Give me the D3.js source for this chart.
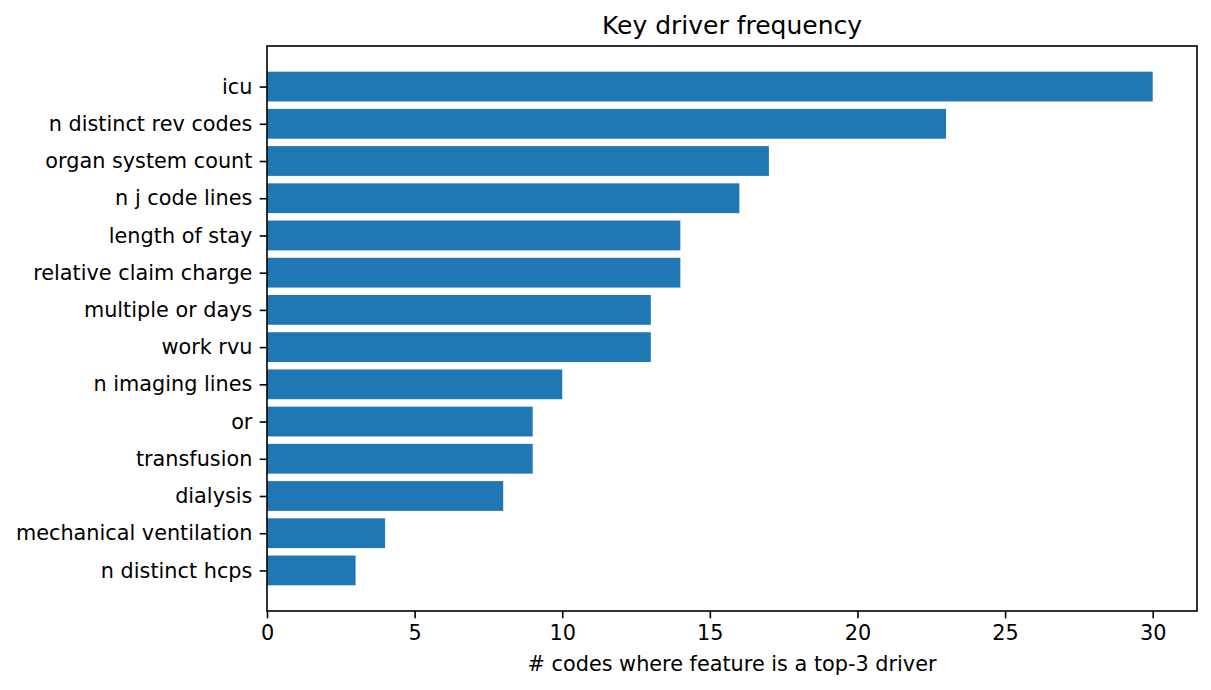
<!DOCTYPE html>
<html><head><meta charset="utf-8">
<script src="https://cdn.jsdelivr.net/npm/d3@7"></script>
<style>body{margin:0;background:#fff}svg{display:block}text{font-family:"DejaVu Sans",sans-serif}</style>
</head><body><svg id="c" width="1211" height="690"></svg>
<script>
const categories = ["icu","n distinct rev codes","organ system count","n j code lines","length of stay","relative claim charge","multiple or days","work rvu","n imaging lines","or","transfusion","dialysis","mechanical ventilation","n distinct hcps"];
const values = [30,23,17,16,14,14,13,13,10,9,9,8,4,3];
const xTicks = [0,5,10,15,20,25,30];
const title = "Key driver frequency";
const xLabel = "# codes where feature is a top-3 driver";

const svg = d3.select("#c");
const L=267,R=1197,T=46,B=611;
const n = categories.length;
const x = d3.scaleLinear().domain([0,31.5]).range([L,R]);
const pad = 0.05*(n-1+0.8);
const y = d3.scaleLinear().domain([-0.4-pad, n-1+0.4+pad]).range([T,B]);
const fs = 20.8;

svg.append("g").selectAll("rect").data(values).join("rect")
  .attr("x", x(0)).attr("y",(d,i)=>y(i-0.4)).attr("width",d=>x(d)-x(0))
  .attr("height",(d,i)=>y(i+0.4)-y(i-0.4)).attr("fill","#1f77b4");

const xa = svg.append("g").attr("transform",`translate(0,${B})`)
  .call(d3.axisBottom(x).tickValues(xTicks).tickFormat(d3.format("d")).tickSizeOuter(0).tickSize(7.3).tickPadding(7));
const ya = svg.append("g").attr("transform",`translate(${L},0)`)
  .call(d3.axisLeft(y).tickValues(d3.range(n)).tickFormat(i=>categories[i]).tickSizeOuter(0).tickSize(7.3).tickPadding(7.3));
[xa,ya].forEach(a=>{a.select(".domain").remove();a.selectAll("line").attr("stroke","#000").attr("stroke-width",1.6);
  a.selectAll("text").attr("font-size",fs).attr("fill","#000").attr("font-family","DejaVu Sans");});
svg.append("rect").attr("x",L).attr("y",T).attr("width",R-L).attr("height",B-T)
  .attr("fill","none").attr("stroke","#000").attr("stroke-width",1.6);
svg.append("text").attr("x",(L+R)/2).attr("y",T-12.5).attr("text-anchor","middle").attr("font-size",25).text(title);
svg.append("text").attr("x",(L+R)/2).attr("y",671).attr("text-anchor","middle").attr("font-size",fs).text(xLabel);
</script></body></html>
